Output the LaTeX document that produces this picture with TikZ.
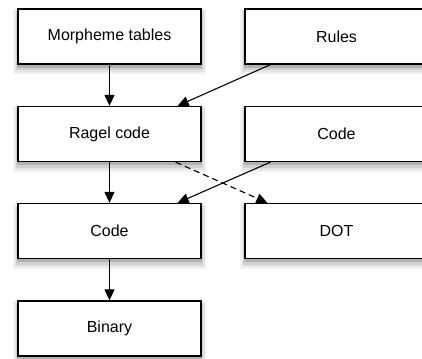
\documentclass[tikz,border=0pt]{standalone}
\usepackage{fontspec}
\setmainfont{Liberation Sans}
\usetikzlibrary{arrows.meta,calc}

\tikzset{
  % soft drop shadow built from layered grey outlines
  softshadow/.style={
    preaction={fill=black!5, draw=black!5, line width=10pt, transform canvas={yshift=-5pt}},
    preaction={fill=black!10, draw=black!10, line width=7pt, transform canvas={yshift=-5pt}},
    preaction={fill=black!18, draw=black!18, line width=4pt, transform canvas={yshift=-4pt}},
    preaction={fill=black!30, draw=black!30, line width=1.5pt, transform canvas={yshift=-3pt}}},
  stage/.style={draw=black, line width=1.3pt, fill=white,
    minimum width=183pt, minimum height=55pt, inner sep=0pt,
    font=\fontsize{16}{19}\selectfont, softshadow},
  flow/.style={line width=1.1pt, -{Triangle[length=11pt,width=10pt]}},
  dflow/.style={flow, dash pattern=on 6pt off 4pt}
}

\begin{document}
\begin{tikzpicture}[x=1pt,y=-1pt]
  \useasboundingbox (0,0) rectangle (422,358);

  % left column
  \node[stage] (morph)  at (109.5,36.5) {Morpheme tables};
  \node[stage] (ragel)  at (109.5,134)  {Ragel code};
  \node[stage] (code)   at (109.5,231)  {Code};
  \node[stage] (binary) at (109.5,328.5){Binary};

  % right column
  \node[stage] (rules)  at (336.5,36.5) {Rules};
  \node[stage] (rcode)  at (336.5,134)  {Code};
  \node[stage] (dot)    at (336.5,231)  {DOT};

  % connectors
  \draw[flow] (morph) -- (ragel);
  \draw[flow] (ragel) -- (code);
  \draw[flow] (code) -- (binary);
  \draw[flow] ([xshift=26pt]rules.south west) -- ([xshift=-24pt]ragel.north east);
  \draw[flow] ([xshift=26pt]rcode.south west) -- ([xshift=-24pt]code.north east);
  \draw[dflow] ([xshift=-26pt]ragel.south east) -- ([xshift=23pt]dot.north west);
\end{tikzpicture}
\end{document}
